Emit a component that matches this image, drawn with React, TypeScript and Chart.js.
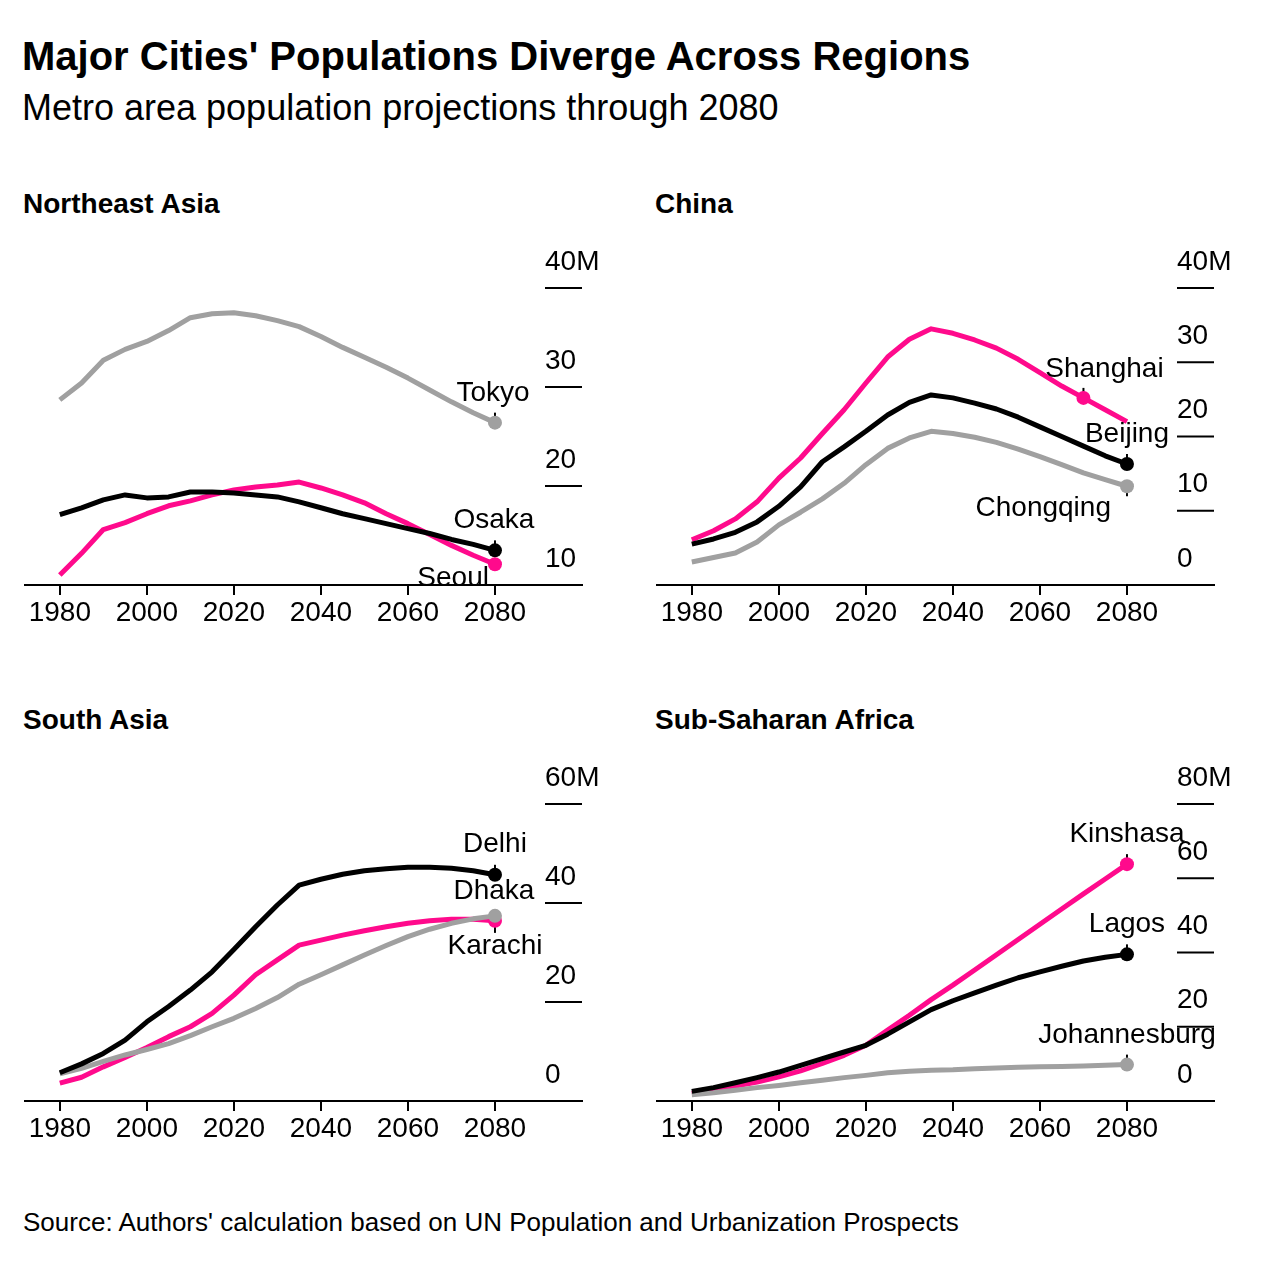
import React, { useEffect, useRef } from "react";
import { Chart, registerables } from "chart.js";

Chart.register(...registerables);

// ---------- data ----------
const years = [1980, 1985, 1990, 1995, 2000, 2005, 2010, 2015, 2020, 2025, 2030, 2035, 2040, 2045, 2050, 2055, 2060, 2065, 2070, 2075, 2080];
const xTicks = [1980, 2000, 2020, 2040, 2060, 2080];

// Northeast Asia
const tokyo = [28.7, 30.4, 32.7, 33.8, 34.6, 35.7, 37.0, 37.4, 37.5, 37.2, 36.7, 36.1, 35.1, 34.0, 33.0, 32.0, 30.9, 29.7, 28.5, 27.4, 26.4];
const osaka = [17.1, 17.8, 18.6, 19.1, 18.8, 18.9, 19.4, 19.4, 19.3, 19.1, 18.9, 18.4, 17.8, 17.2, 16.7, 16.2, 15.7, 15.2, 14.6, 14.1, 13.5];
const seoul = [11.0, 13.2, 15.6, 16.3, 17.2, 18.0, 18.5, 19.1, 19.6, 19.9, 20.1, 20.4, 19.8, 19.1, 18.3, 17.2, 16.2, 15.1, 14.0, 13.0, 12.1];
const neAsiaTicks = [10, 20, 30, 40];

// China
const shanghai = [6.1, 7.3, 8.9, 11.2, 14.4, 17.1, 20.4, 23.6, 27.2, 30.7, 33.1, 34.5, 33.9, 33.0, 31.9, 30.4, 28.6, 26.8, 25.2, 23.6, 22.0];
const beijing = [5.5, 6.2, 7.1, 8.5, 10.6, 13.2, 16.6, 18.6, 20.7, 22.9, 24.6, 25.6, 25.2, 24.5, 23.7, 22.6, 21.3, 20.0, 18.7, 17.4, 16.3];
const chongqing = [3.1, 3.7, 4.3, 5.8, 8.1, 9.8, 11.6, 13.7, 16.2, 18.4, 19.8, 20.7, 20.4, 19.9, 19.2, 18.3, 17.3, 16.2, 15.1, 14.2, 13.3];
const chinaTicks = [0, 10, 20, 30, 40];

// South Asia
const delhi = [5.7, 7.5, 9.6, 12.3, 16.0, 19.1, 22.4, 26.1, 30.6, 35.2, 39.6, 43.6, 44.8, 45.8, 46.5, 46.9, 47.2, 47.2, 47.0, 46.5, 45.7];
const dhaka = [3.6, 4.8, 6.9, 8.8, 10.8, 13.0, 15.0, 17.7, 21.4, 25.5, 28.5, 31.5, 32.5, 33.5, 34.4, 35.2, 35.9, 36.4, 36.7, 36.7, 36.4];
const karachi = [5.5, 6.6, 8.0, 9.3, 10.4, 11.6, 13.2, 15.0, 16.7, 18.7, 20.9, 23.6, 25.5, 27.5, 29.5, 31.4, 33.2, 34.7, 35.9, 36.8, 37.4];
const southAsiaTicks = [0, 20, 40, 60];

// Sub-Saharan Africa
const kinshasa = [2.0, 2.9, 4.0, 5.1, 6.5, 8.1, 10.1, 12.3, 15.0, 19.1, 23.1, 27.3, 31.2, 35.3, 39.4, 43.5, 47.6, 51.7, 55.8, 59.8, 63.8];
const lagos = [2.6, 3.6, 4.9, 6.3, 7.8, 9.6, 11.4, 13.2, 15.0, 18.0, 21.3, 24.6, 27.0, 29.1, 31.2, 33.2, 34.8, 36.3, 37.7, 38.7, 39.5];
const johannesburg = [1.7, 2.2, 2.9, 3.6, 4.2, 4.9, 5.6, 6.3, 6.9, 7.6, 8.0, 8.3, 8.4, 8.7, 8.9, 9.1, 9.2, 9.3, 9.4, 9.6, 9.8];
const africaTicks = [0, 20, 40, 60, 80];

// ---------- styles ----------
const PINK = "#ff0a8c";
const GRAY = "#a0a0a0";
const BLACK = "#000000";
const FONT = "'Liberation Sans', Arial, Helvetica, sans-serif";

const CANVAS_W = 630;
const CANVAS_H = 430;

type CityLabel = { align: CanvasTextAlign; dx: number; dy: number; leader: number };
type City = { name: string; values: number[]; color: string; dotYear: number; label: CityLabel };
type Panel = {
  title: string;
  left: number;
  top: number;
  yMin: number;
  yMax: number;
  yTicks: number[];
  cities: City[]; // first is drawn on top
};

const panels: Panel[] = [
  {
    title: "Northeast Asia",
    left: 0,
    top: 230,
    yMin: 10,
    yMax: 40,
    yTicks: neAsiaTicks,
    cities: [
      { name: "Osaka", values: osaka, color: BLACK, dotYear: 2080, label: { align: "center", dx: -1, dy: -22, leader: -10 } },
      { name: "Tokyo", values: tokyo, color: GRAY, dotYear: 2080, label: { align: "center", dx: -2, dy: -22, leader: -10 } },
      { name: "Seoul", values: seoul, color: PINK, dotYear: 2080, label: { align: "right", dx: -6, dy: 22, leader: 0 } },
    ],
  },
  {
    title: "China",
    left: 632,
    top: 230,
    yMin: 0,
    yMax: 40,
    yTicks: chinaTicks,
    cities: [
      { name: "Beijing", values: beijing, color: BLACK, dotYear: 2080, label: { align: "center", dx: 0, dy: -22, leader: -10 } },
      { name: "Chongqing", values: chongqing, color: GRAY, dotYear: 2080, label: { align: "right", dx: -16, dy: 30, leader: 10 } },
      { name: "Shanghai", values: shanghai, color: PINK, dotYear: 2070, label: { align: "center", dx: 21, dy: -21, leader: -10 } },
    ],
  },
  {
    title: "South Asia",
    left: 0,
    top: 746,
    yMin: 0,
    yMax: 60,
    yTicks: southAsiaTicks,
    cities: [
      { name: "Delhi", values: delhi, color: BLACK, dotYear: 2080, label: { align: "center", dx: 0, dy: -23, leader: -10 } },
      { name: "Karachi", values: karachi, color: GRAY, dotYear: 2080, label: { align: "center", dx: 0, dy: 38, leader: 17 } },
      { name: "Dhaka", values: dhaka, color: PINK, dotYear: 2080, label: { align: "center", dx: -1, dy: -22, leader: -10 } },
    ],
  },
  {
    title: "Sub-Saharan Africa",
    left: 632,
    top: 746,
    yMin: 0,
    yMax: 80,
    yTicks: africaTicks,
    cities: [
      { name: "Lagos", values: lagos, color: BLACK, dotYear: 2080, label: { align: "center", dx: 0, dy: -22, leader: -10 } },
      { name: "Johannesburg", values: johannesburg, color: GRAY, dotYear: 2080, label: { align: "center", dx: 0, dy: -22, leader: -10 } },
      { name: "Kinshasa", values: kinshasa, color: PINK, dotYear: 2080, label: { align: "center", dx: 0, dy: -22, leader: -10 } },
    ],
  },
];

function PanelChart({ panel }: { panel: Panel }) {
  const ref = useRef<HTMLCanvasElement>(null);

  useEffect(() => {
    if (!ref.current) return;

    const decorations = {
      id: "panelDecorations",
      beforeDatasetsDraw(chart: any) {
        const { ctx, chartArea, scales } = chart;
        const ys = scales.y;
        const xs = scales.x;
        ctx.save();
        // y gridline stubs + labels (labels sit above each stub)
        ctx.strokeStyle = "#000";
        ctx.lineWidth = 2;
        ctx.fillStyle = "#000";
        ctx.font = `28px ${FONT}`;
        ctx.textAlign = "left";
        ctx.textBaseline = "middle";
        const stubLeft = chartArea.right - 37;
        panel.yTicks.forEach((v, i) => {
          const y = ys.getPixelForValue(v);
          if (v !== panel.yMin) {
            ctx.beginPath();
            ctx.moveTo(stubLeft, y);
            ctx.lineTo(chartArea.right, y);
            ctx.stroke();
          }
          const text = i === panel.yTicks.length - 1 ? `${v}M` : `${v}`;
          ctx.fillText(text, stubLeft, y - 26);
        });
        // leader ticks
        ctx.lineWidth = 2;
        panel.cities.forEach((c) => {
          if (!c.label.leader) return;
          const idx = years.indexOf(c.dotYear);
          const x = xs.getPixelForValue(c.dotYear);
          const y = ys.getPixelForValue(c.values[idx]);
          ctx.beginPath();
          ctx.moveTo(x, y);
          ctx.lineTo(x, y + c.label.leader);
          ctx.stroke();
        });
        ctx.restore();
      },
      afterDatasetsDraw(chart: any) {
        const { ctx, scales } = chart;
        ctx.save();
        ctx.fillStyle = "#000";
        ctx.font = `28px ${FONT}`;
        ctx.textBaseline = "alphabetic";
        panel.cities.forEach((c) => {
          const idx = years.indexOf(c.dotYear);
          const x = scales.x.getPixelForValue(c.dotYear);
          const y = scales.y.getPixelForValue(c.values[idx]);
          ctx.textAlign = c.label.align;
          ctx.fillText(c.name, x + c.label.dx, y + c.label.dy);
        });
        ctx.restore();
      },
    };

    const chart = new Chart(ref.current, {
      type: "line",
      data: {
        datasets: panel.cities.map((c) => {
          const dotIndex = years.indexOf(c.dotYear);
          return {
            label: c.name,
            data: years.map((yr, i) => ({ x: yr, y: c.values[i] })),
            borderColor: c.color,
            backgroundColor: c.color,
            borderWidth: 5,
            borderJoinStyle: "round" as const,
            tension: 0,
            pointRadius: (ctx: any) => (ctx.dataIndex === dotIndex ? 7 : 0),
            pointHoverRadius: 0,
            pointBorderWidth: 0,
            pointBackgroundColor: c.color,
            clip: false as any,
          };
        }),
      },
      options: {
        animation: false,
        responsive: false,
        maintainAspectRatio: false,
        events: [],
        layout: { padding: { left: 25, right: 48, top: 58, bottom: 29 } },
        plugins: {
          legend: { display: false },
          tooltip: { enabled: false },
        },
        scales: {
          x: {
            type: "linear",
            min: 1972,
            max: 2100,
            afterBuildTicks: (axis: any) => {
              axis.ticks = xTicks.map((v) => ({ value: v }));
            },
            grid: {
              drawOnChartArea: false,
              drawTicks: true,
              tickLength: 10,
              color: "#000",
              lineWidth: 2,
            },
            border: { display: true, color: "#000", width: 2 },
            ticks: {
              color: "#000",
              padding: 4,
              maxRotation: 0,
              autoSkip: false,
              font: { family: FONT, size: 28, lineHeight: 1 },
              callback: (v: any) => String(v),
            },
          },
          y: {
            type: "linear",
            display: false,
            min: panel.yMin,
            max: panel.yMax,
          },
        },
      },
      plugins: [decorations],
    } as any);

    return () => chart.destroy();
  }, [panel]);

  return (
    <canvas
      ref={ref}
      width={CANVAS_W}
      height={CANVAS_H}
      style={{ position: "absolute", left: panel.left, top: panel.top, width: CANVAS_W, height: CANVAS_H, display: "block" }}
    />
  );
}

const textBase: React.CSSProperties = {
  position: "absolute",
  whiteSpace: "nowrap",
  lineHeight: 1,
  margin: 0,
  color: "#000",
  fontFamily: FONT,
};

export default function App() {
  return (
    <div style={{ position: "absolute", left: 0, top: 0, width: 1276, height: 1270, background: "#fff", overflow: "hidden" }}>
      <div style={{ ...textBase, left: 22, top: 36, fontSize: 40, fontWeight: 700 }}>
        Major Cities' Populations Diverge Across Regions
      </div>
      <div style={{ ...textBase, left: 22, top: 89.5, fontSize: 36 }}>
        Metro area population projections through 2080
      </div>
      {panels.map((p) => (
        <div key={p.title + "-t"} style={{ ...textBase, left: p.left + 23, top: p.top - 40.4, fontSize: 28, fontWeight: 700 }}>
          {p.title}
        </div>
      ))}
      {panels.map((p) => (
        <PanelChart key={p.title} panel={p} />
      ))}
      <div style={{ ...textBase, left: 23, top: 1208.7, fontSize: 26 }}>
        Source: Authors' calculation based on UN Population and Urbanization Prospects
      </div>
    </div>
  );
}
